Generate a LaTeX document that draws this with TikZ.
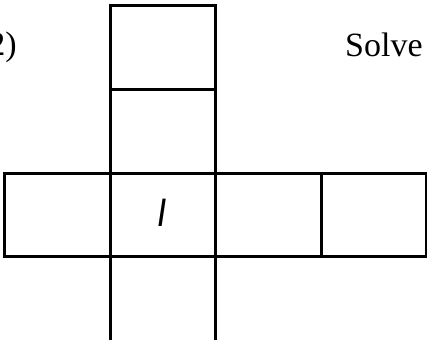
\documentclass[tikz,border=0pt]{standalone}
\usepackage{fontspec}
\setmainfont{Liberation Serif}
\newfontfamily\arabicfont[Script=Arabic]{DejaVu Sans}
\TeXXeTstate=1
\usetikzlibrary{positioning}

\begin{document}
\begin{tikzpicture}[
    x=1pt, y=-1pt,
    cell/.style={draw, line width=3pt, minimum width=105.5pt, minimum height=83.5pt, inner sep=0pt, outer sep=0pt},
    label/.style={font=\fontsize{34}{38}\selectfont, inner sep=0pt}
]
\useasboundingbox (0,0) rectangle (427,339);

% Column of cells
\node[cell, anchor=north west] (top) at (110,6) {};
\node[cell, below=0pt of top] (upper) {};
\node[cell, below=0pt of upper] (centre) {};
\node[xslant=0.15, transform shape] (alef) at ([yshift=2pt]centre) {\arabicfont\fontsize{36}{40}\selectfont\beginR ا\endR};

% Row of cells
\node[cell, left=0pt of centre] (west) {};
\node[cell, right=0pt of centre] (east) {};
\node[cell, right=0pt of east] (far) {};

% Open cell at the bottom
\coordinate (lowleft) at ([yshift=-90pt]centre.south west);
\coordinate (lowright) at ([yshift=-90pt]centre.south east);
\draw[line width=3pt] (centre.south west) -- (lowleft);
\draw[line width=3pt] (centre.south east) -- (lowright);

% Texts
\node[label, anchor=base east] (num) at (17,56) {2)};
\node[label, anchor=base west] (solve) at (345,57) {Solve};

\end{tikzpicture}
\end{document}
